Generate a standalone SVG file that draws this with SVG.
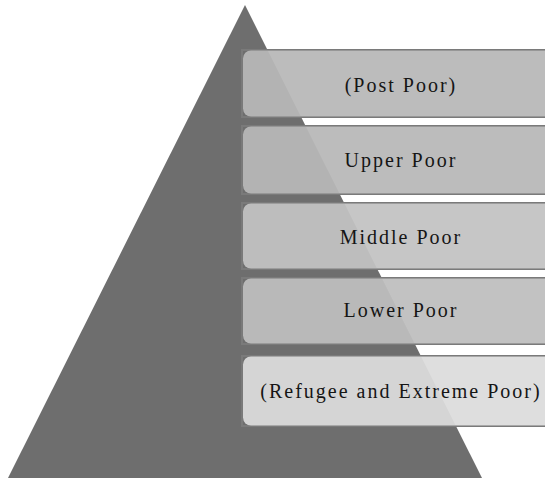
<svg xmlns="http://www.w3.org/2000/svg" width="545" height="481" viewBox="0 0 545 481">
  <style>
    .frame { fill: none; stroke: #7a7a7a; stroke-width: 2; }
    .card { fill-opacity: 0.94; }
    .label { font-family: "Liberation Serif", "Times New Roman", serif; font-size: 20px; letter-spacing: 2px; fill: #151515; text-anchor: middle; }
  </style>
  <rect x="0" y="0" width="545" height="481" fill="#ffffff"/>
  <g id="pyramid">
    <polygon points="245,5 8,478 482,478" fill="#6e6e6e"/>
  </g>
  <g id="connectors"></g>
  <g id="level-post-poor">
    <rect class="frame" x="242" y="50" width="320" height="67"/>
    <rect class="card" x="243" y="50.5" width="316" height="66" rx="8" fill="#b8b8b8"/>
    <text class="label" x="401" y="92">(Post Poor)</text>
  </g>
  <g id="level-upper-poor">
    <rect class="frame" x="242" y="126" width="320" height="68"/>
    <rect class="card" x="243" y="126.5" width="316" height="67" rx="8" fill="#b8b8b8"/>
    <text class="label" x="401" y="167">Upper Poor</text>
  </g>
  <g id="level-middle-poor">
    <rect class="frame" x="242" y="203" width="320" height="66"/>
    <rect class="card" x="243" y="203.5" width="316" height="65" rx="8" fill="#c2c2c2"/>
    <text class="label" x="401" y="244">Middle Poor</text>
  </g>
  <g id="level-lower-poor">
    <rect class="frame" x="242" y="278" width="320" height="66"/>
    <rect class="card" x="243" y="278.5" width="316" height="65" rx="8" fill="#bebebe"/>
    <text class="label" x="401" y="317">Lower Poor</text>
  </g>
  <g id="level-refugee-extreme-poor">
    <rect class="frame" x="242" y="356" width="320" height="70"/>
    <rect class="card" x="243" y="356.5" width="316" height="69" rx="8" fill="#dcdcdc"/>
    <text class="label" x="401" y="398">(Refugee and Extreme Poor)</text>
  </g>
</svg>
